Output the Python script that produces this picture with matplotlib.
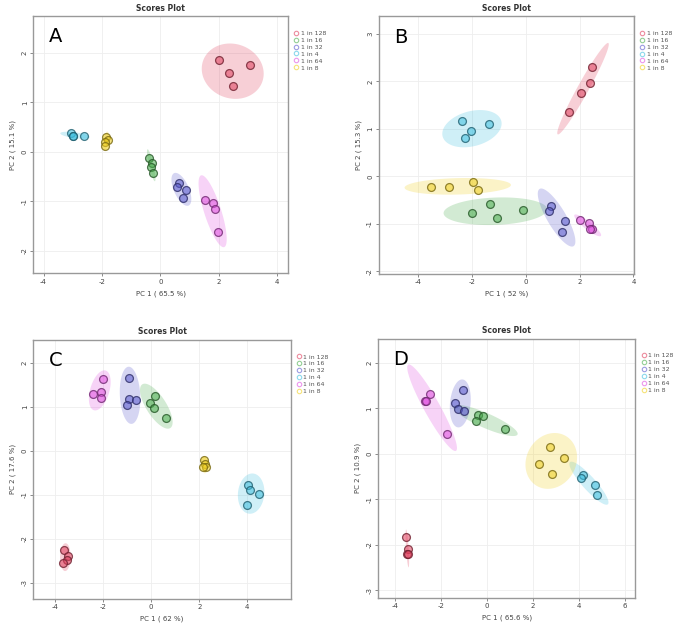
import numpy as np
import matplotlib
matplotlib.use("Agg")
import matplotlib.pyplot as plt
from matplotlib.colors import to_rgb
from matplotlib.lines import Line2D

plt.rcParams["axes.unicode_minus"] = False

# === data ===
groups = ["1 in 128", "1 in 16", "1 in 32", "1 in 4", "1 in 64", "1 in 8"]
group_colors = ["#E0405E", "#4CAF50", "#5A5ACF", "#40C0E0", "#E050E0", "#F0D020"]

# 4 replicates per group, groups in the order above
A_pc1 = [2.01, 3.05, 2.35, 2.49, -0.39, -0.29, -0.33, -0.25, 0.65, 0.56, 0.87, 0.79,
         -3.07, -3.01, -3.00, -2.62, 1.51, 1.81, 1.86, 1.97, -1.86, -1.81, -1.90, -1.89]
A_pc2 = [1.85, 1.76, 1.59, 1.33, -0.12, -0.22, -0.31, -0.43, -0.62, -0.70, -0.77, -0.94,
         0.38, 0.33, 0.32, 0.32, -0.97, -1.04, -1.16, -1.63, 0.31, 0.24, 0.20, 0.12]

B_pc1 = [2.47, 2.37, 2.06, 1.60, -1.33, -2.01, -1.07, -0.11, 0.94, 0.86, 1.44, 1.33,
         -2.36, -1.36, -2.03, -2.26, 2.00, 2.34, 2.46, 2.39, -3.52, -2.85, -1.96, -1.79]
B_pc2 = [2.30, 1.97, 1.76, 1.36, -0.59, -0.78, -0.87, -0.70, -0.62, -0.72, -0.95, -1.18,
         1.16, 1.10, 0.96, 0.80, -0.92, -0.99, -1.11, -1.11, -0.23, -0.22, -0.11, -0.28]

C_pc1 = [-3.63, -3.47, -3.52, -3.66, 0.18, -0.03, 0.10, 0.61, -0.94, -0.94, -0.62, -1.01,
         4.05, 4.11, 4.49, 3.99, -2.00, -2.41, -2.07, -2.07, 2.21, 2.22, 2.29, 2.16]
C_pc2 = [-2.25, -2.39, -2.48, -2.55, 1.26, 1.09, 0.98, 0.76, 1.66, 1.19, 1.17, 1.06,
         -0.78, -0.89, -0.99, -1.22, 1.65, 1.31, 1.35, 1.22, -0.20, -0.30, -0.37, -0.37]

D_pc1 = [-3.51, -3.44, -3.48, -3.45, -0.41, -0.17, -0.46, 0.77, -1.03, -1.38, -1.26, -0.99,
         4.19, 4.09, 4.69, 4.78, -2.50, -2.69, -2.64, -1.74, 2.74, 3.37, 2.25, 2.83]
D_pc2 = [-1.84, -2.09, -2.20, -2.20, 0.85, 0.82, 0.72, 0.54, 1.41, 1.11, 0.98, 0.93,
         -0.46, -0.54, -0.69, -0.90, 1.31, 1.15, 1.15, 0.44, 0.15, -0.10, -0.23, -0.45]

pc1_var = ["65.5", "52", "62", "65.6"]
pc2_var = ["15.1", "15.3", "17.6", "10.9"]
panel_letters = ["A", "B", "C", "D"]

# === layout ===
fig = plt.figure(figsize=(6.81, 6.32), dpi=100)
axes_pos = [
    [0.049, 0.568, 0.374, 0.406],
    [0.556, 0.567, 0.375, 0.407],
    [0.049, 0.053, 0.378, 0.409],
    [0.555, 0.054, 0.378, 0.410],
]
limits = [
    ((-4.35, 4.37), (-2.45, 2.74)),
    ((-5.47, 4.02), (-2.05, 3.37)),
    ((-4.90, 5.81), (-3.36, 2.53)),
    ((-4.75, 6.46), (-3.17, 2.53)),
]
yticks = [range(-2, 3), range(-2, 4), range(-3, 3), range(-3, 3)]
xticks = [range(-4, 5, 2), range(-4, 5, 2), range(-4, 5, 2), range(-4, 7, 2)]

chi = np.sqrt(5.991)  # 95% level, 2 df
t = np.linspace(0, 2 * np.pi, 200)


def conf_ellipse(x, y):
    pts = np.column_stack([x, y])
    c = pts.mean(axis=0)
    cov = np.cov(pts, rowvar=False)
    vals, vecs = np.linalg.eigh(cov)
    vals = np.clip(vals, 1e-6, None)
    circ = np.vstack([np.cos(t), np.sin(t)])
    e = vecs @ (np.sqrt(vals)[:, None] * circ) * chi
    return c[0] + e[0], c[1] + e[1]


def darker(col, f=0.5):
    r, g, b = to_rgb(col)
    return (r * f, g * f, b * f, 0.8)


data = [(A_pc1, A_pc2), (B_pc1, B_pc2), (C_pc1, C_pc2), (D_pc1, D_pc2)]

for i, (pc1, pc2) in enumerate(data):
    ax = fig.add_axes(axes_pos[i])
    pc1 = np.array(pc1)
    pc2 = np.array(pc2)
    for g, col in enumerate(group_colors):
        xs = pc1[g * 4:(g + 1) * 4]
        ys = pc2[g * 4:(g + 1) * 4]
        ex, ey = conf_ellipse(xs, ys)
        ax.fill(ex, ey, color=col, alpha=0.25, lw=0, zorder=1)
    for g, col in enumerate(group_colors):
        xs = pc1[g * 4:(g + 1) * 4]
        ys = pc2[g * 4:(g + 1) * 4]
        face = to_rgb(col) + (0.55,)
        ax.scatter(xs, ys, s=32, facecolor=[face],
                   edgecolor=[darker(col)], linewidth=0.9, zorder=3)

    ax.set_xlim(*limits[i][0])
    ax.set_ylim(*limits[i][1])
    ax.set_xticks(list(xticks[i]))
    ax.set_yticks(list(yticks[i]))
    ax.tick_params(labelsize=5, length=2, width=0.6, color="#777777",
                   labelcolor="#444444", pad=2)
    for lab in ax.get_yticklabels():
        lab.set_rotation(90)
        lab.set_va("center")
    ax.grid(True, color="#EEEEEE", lw=0.6, zorder=0)
    ax.set_axisbelow(True)
    for sp in ax.spines.values():
        sp.set_color("#999999")
        sp.set_linewidth(1.0)
    ax.set_xlabel(f"PC 1 ( {pc1_var[i]} %)", fontsize=5, color="#444444", labelpad=4)
    ax.set_ylabel(f"PC 2 ( {pc2_var[i]} %)", fontsize=5, color="#444444", labelpad=4)
    ax.set_title("Scores Plot", fontsize=5.5, fontweight="bold", color="#333333", pad=4)
    ax.text(0.06, 0.92, panel_letters[i], transform=ax.transAxes,
            fontsize=14, va="center", ha="left", zorder=5)

    handles = [Line2D([], [], ls="none", marker="o", markersize=3.2,
                      markerfacecolor="none", markeredgecolor=col,
                      markeredgewidth=0.8, alpha=0.6)
               for col in group_colors]
    ax.legend(handles, groups, loc="upper left", bbox_to_anchor=(1.01, 0.955),
              frameon=False, fontsize=4.5, labelspacing=0.25,
              handletextpad=0.2, handlelength=1.0, borderaxespad=0,
              labelcolor="#555555")

fig.savefig("out.png", dpi=100)
